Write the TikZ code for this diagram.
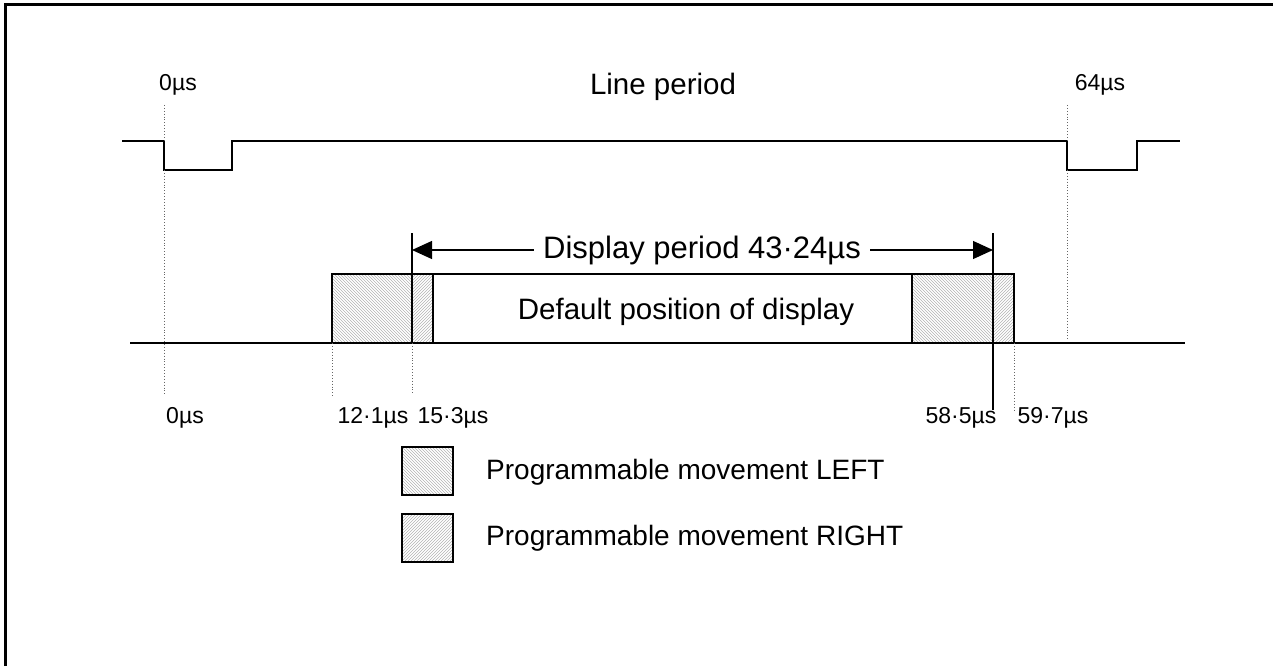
\documentclass[tikz,border=0pt]{standalone}
\usepackage{fontspec}
\setmainfont{Liberation Sans}
\usetikzlibrary{arrows.meta,patterns}
\begin{document}
\begin{tikzpicture}[x=1pt,y=-1pt,
  wave/.style={line width=1.6pt},
  guide/.style={dotted, line width=0.9pt, black!60},
  solidmark/.style={line width=1.6pt},
  big/.style={font=\fontsize{29.5}{32}\selectfont, inner sep=0pt},
  legendtext/.style={font=\fontsize{28}{30}\selectfont, inner sep=0pt},
  small/.style={font=\fontsize{23}{25}\selectfont, inner sep=0pt},
  hatchL/.style={pattern=north west lines, pattern color=black!30},
  hatchR/.style={pattern=north east lines, pattern color=black!30},
  box/.style={line width=1.4pt},
  arr/.style={line width=1.2pt, -{Triangle[length=20pt,width=18pt]}},
]
\useasboundingbox (0,0) rectangle (1273,666);
\draw[line width=3pt] (5,666) -- (5,5) -- (1273,5);

% waveform
\coordinate (w0) at (122,141);
\coordinate (w1) at (164,141);
\coordinate (w2) at (164,170);
\coordinate (w3) at (232,170);
\coordinate (w4) at (232,141);
\coordinate (w5) at (1067,141);
\coordinate (w6) at (1067,170);
\coordinate (w7) at (1137,170);
\coordinate (w8) at (1137,141);
\coordinate (w9) at (1180,141);
\draw[wave] (w0) -- (w1) -- (w2) -- (w3) -- (w4) -- (w5) -- (w6) -- (w7) -- (w8) -- (w9);

% baseline
\coordinate (bl0) at (130,343);
\coordinate (bl1) at (1185,343);

% guides
\coordinate (g0t) at (164,105);
\coordinate (g0b) at (164,395);
\coordinate (g64t) at (1067,105);
\coordinate (g64b) at (1067,341);
\draw[guide] (g0t) -- (w1);
\draw[guide] (w2) -- (g0b);
\draw[guide] (g64t) -- (w5);
\draw[guide] (w6) -- (g64b);

% hatched regions and box
\coordinate (bA) at (332,274);
\coordinate (bB) at (412,343);
\coordinate (bC) at (433,274);
\coordinate (bD) at (912,343);
\coordinate (bE) at (993,274);
\coordinate (bF) at (1014,343);
\fill[hatchL] (bA) rectangle (bB);
\fill[hatchR] (bB |- bA) rectangle (bC |- bB);
\fill[hatchL] (bD |- bA) rectangle (bE |- bB);
\fill[hatchR] (bE) rectangle (bF);
\draw[box] (bA) rectangle (bF);
\draw[box] (bC) -- (bC |- bB);
\draw[box] (bD |- bA) -- (bD);

\draw[line width=1.4pt] (bl0) -- (bl1);

% marker lines
\coordinate (mL) at (412,233);
\coordinate (mLb) at (412,343);
\coordinate (mLd) at (412,395);
\coordinate (mR) at (993,233);
\coordinate (mRb) at (993,410);
\draw[solidmark] (mL) -- (mLb);
\draw[guide] (mLb) -- (mLd);
\draw[solidmark] (mR) -- (mRb);
\coordinate (gA) at (332,343);
\coordinate (gAb) at (332,397);
\draw[guide] (gA) -- (gAb);
\coordinate (gF) at (1014,343);
\coordinate (gFb) at (1014,410);
\draw[guide] (gF) -- (gFb);

% texts
\node[small] (t0) at (178,85) {0µs};
\node[big] (tline) at (663,87) {Line period};
\node[small] (t64) at (1100,85) {64µs};
\node[big, font=\fontsize{31}{33}\selectfont, fill=white, inner xsep=9pt] (disp) at (702,250) {Display period 43·24µs};
\node[big] (def) at (686,312) {Default position of display};
\draw[arr] (disp.west) -- (mL |- disp.west);
\draw[arr] (disp.east) -- (mR |- disp.east);

\node[small] (b0) at (185,418) {0µs};
\node[small] (b121) at (373,418) {12·1µs};
\node[small] (b153) at (453,418) {15·3µs};
\node[small] (b585) at (961,418) {58·5µs};
\node[small] (b597) at (1053,418) {59·7µs};

% legend
\draw[box, hatchL] (402,447) rectangle (453,495);
\node[legendtext, anchor=west] (lgL) at (486,472) {Programmable movement LEFT};
\draw[box, hatchR] (402,514) rectangle (453,562);
\node[legendtext, anchor=west] (lgR) at (486,538) {Programmable movement RIGHT};
\end{tikzpicture}
\end{document}
